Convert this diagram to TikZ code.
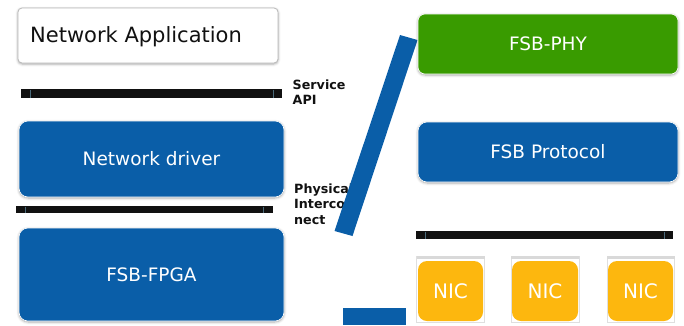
\documentclass[tikz,border=0pt]{standalone}
\usepackage{fontspec}
\setmainfont{DejaVu Sans}
\usetikzlibrary{shadows.blur}
\definecolor{fsbblue}{HTML}{0A5EA8}
\definecolor{fsbgreen}{HTML}{399B00}
\definecolor{fsborange}{HTML}{FDB70E}
\definecolor{barblack}{HTML}{111111}
\definecolor{barmark}{HTML}{4A6A7A}
\tikzset{
  softshadow/.style={blur shadow={shadow xshift=0pt,shadow yshift=-1pt,shadow blur radius=2.5pt,shadow opacity=35}},
  boxlabel/.style={font=\fontsize{18.5}{22}\selectfont, text=white},
  bluebox/.style={boxlabel, fill=fsbblue, draw=white, line width=0.6pt, rounded corners=9pt, softshadow, inner sep=0pt},
  greenbox/.style={boxlabel, fill=fsbgreen, draw=white, line width=0.6pt, rounded corners=7pt, softshadow, inner sep=0pt},
  nicbox/.style={font=\fontsize{20}{24}\selectfont, text=white, fill=fsborange, rounded corners=9pt, inner sep=0pt, minimum width=65pt, minimum height=60pt},
  nicframe/.style={fill=white, draw=gray!25, line width=0.5pt},
  nicshade/.style={fill=gray!30},
  appbox/.style={fill=white, draw=gray!55, line width=0.8pt, rounded corners=4pt, softshadow, inner sep=0pt},
  barfill/.style={fill=barblack},
  barmarkline/.style={draw=barmark, line width=0.8pt},
  sidelabel/.style={font=\fontsize{12.7}{15.3}\selectfont\bfseries, text=barblack, align=left, inner sep=0pt, anchor=north west},
  slab/.style={fill=fsbblue}
}
\begin{document}
\begin{tikzpicture}[x=1pt,y=-1pt]
\useasboundingbox (0,0) rectangle (684,325);

% left stack
\node[appbox, minimum width=260pt, minimum height=55pt] (app) at (148,35.5) {};
\node[anchor=base west, inner sep=0pt, font=\fontsize{21}{25}\selectfont, text=barblack] (apptext) at (30,42) {Network Application};

\fill[barfill] (21,89) rectangle (282,98);
\draw[barmarkline] (30,89.5) -- (30,97.5);
\draw[barmarkline] (273,89.5) -- (273,97.5);
\node[sidelabel] (svc) at (292.5,79.8) {Service\\API};

\node[bluebox, minimum width=265pt, minimum height=76pt] (drv) at (151.5,159) {Network driver};

\fill[barfill] (16,206) rectangle (273,213);
\draw[barmarkline] (25,206.5) -- (25,212.5);
\draw[barmarkline] (263,206.5) -- (263,212.5);
\node[sidelabel] (phys) at (294,183.8) {Physical\\Interco\\nect};

\node[bluebox, minimum width=265pt, minimum height=93pt] (fpga) at (151.5,274.5) {FSB-FPGA};

% diagonal link and lower block
\fill[slab] (400,35) -- (417.5,40) -- (352.5,236) -- (334.5,231) -- cycle;
\fill[slab] (343,308) rectangle (406,325);

% right stack
\node[greenbox, minimum width=260pt, minimum height=60pt] (phy) at (548,44) {FSB-PHY};
\node[bluebox, minimum width=260pt, minimum height=60pt] (proto) at (548,152) {FSB Protocol};

\fill[barfill] (416,231) rectangle (673,239);
\draw[barmarkline] (425,231.5) -- (425,238.5);
\draw[barmarkline] (664.3,231.5) -- (664.3,238.5);

\filldraw[nicframe] (416.5,256) rectangle (484.5,322.5);
\filldraw[nicframe] (511,256) rectangle (579,322.5);
\filldraw[nicframe] (607,256) rectangle (674.5,322.5);
\fill[nicshade] (416.5,256) rectangle (484.5,259);
\fill[nicshade] (511,256) rectangle (579,259);
\fill[nicshade] (607,256) rectangle (674.5,259);
\node[nicbox] (nic1) at (450.5,291) {NIC};
\node[nicbox, minimum width=66pt] (nic2) at (545,291) {NIC};
\node[nicbox] (nic3) at (640.5,291) {NIC};
\end{tikzpicture}
\end{document}
